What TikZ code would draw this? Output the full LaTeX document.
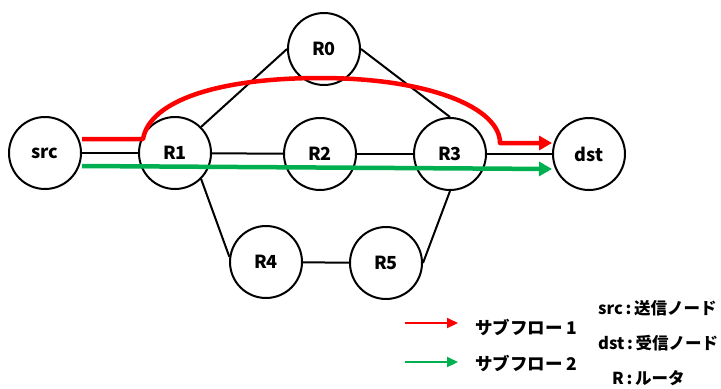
\documentclass[tikz,border=0pt]{standalone}
\usepackage{fontspec}
\setmainfont{Noto Sans CJK JP}
\usetikzlibrary{arrows.meta,calc}
\definecolor{flowred}{RGB}{255,0,0}
\definecolor{flowgreen}{RGB}{0,176,80}
\tikzset{
  rt/.style={circle,draw,line width=2bp,minimum size=72bp,inner sep=0pt,
             font=\fontsize{18bp}{20bp}\selectfont\bfseries},
  link/.style={line width=2bp},
  flow/.style={line width=4.5bp,line join=round,
               -{Triangle[length=13bp,width=14bp]}},
  legarrow/.style={line width=2.2bp,-{Triangle[length=11bp,width=10bp]}},
  legtext/.style={anchor=west,inner sep=0pt,
                  font=\fontsize{17.5bp}{20bp}\selectfont\bfseries},
  keytext/.style={anchor=west,inner sep=0pt,
                  font=\fontsize{16.5bp}{19bp}\selectfont\bfseries}
}
\begin{document}
\begin{tikzpicture}[x=1bp,y=-1bp]
\useasboundingbox (0,0) rectangle (721,388);

% routers and end hosts
\node[rt] (src) at (45,153) {src};
\node[rt] (R1)  at (175,153) {R1};
\node[rt] (R0)  at (324,49) {R0};
\node[rt] (R2)  at (320,154) {R2};
\node[rt] (R3)  at (450,154) {R3};
\node[rt] (dst) at (589,154) {dst};
\node[rt] (R4)  at (266,262) {R4};
\node[rt] (R5)  at (386,263) {R5};

% physical links
\draw[link] (src) -- (R1);
\draw[link] (R1) -- (R2);
\draw[link] (R2) -- (R3);
\draw[link] (R3) -- (dst);
\draw[link] (R1.45) -- (R0.west);
\draw[link] (R0.east) -- (R3.north);
\draw[link] (R1.-45) -- (R4.172);
\draw[link] (R4) -- (R5);
\draw[link] (R5.east) -- (R3.south);

% subflow 1: src -> R1 -> R0 side -> dst
\draw[flow,flowred] ($(src.east)+(0,-14)$) -- (143,139)
  .. controls (150,100) and (220,78) .. (320,78)
  .. controls (430,78) and (500,108) .. (500,143)
  -- ($(dst.west)+(0,-11)$);

% subflow 2: straight path src -> dst
\draw[flow,flowgreen] ($(src.east)+(0,13)$) -- ($(dst.west)+(0,15)$);

% legend
\coordinate (l1a) at (405,323);
\coordinate (l1b) at (458,323);
\coordinate (l2a) at (405,362);
\coordinate (l2b) at (458,362);
\draw[legarrow,flowred] (l1a) -- (l1b);
\draw[legarrow,flowgreen] (l2a) -- (l2b);
\node[legtext] (lg1) at (475,327) {サブフロー 1};
\node[legtext] (lg2) at (475,363) {サブフロー 2};
\node[keytext] (k1) at (598,308) {src\,:\,送信ノード};
\node[keytext] (k2) at (598,343) {dst\,:\,受信ノード};
\node[keytext] (k3) at (612,378) {R\,:\,ルータ};
\end{tikzpicture}
\end{document}
